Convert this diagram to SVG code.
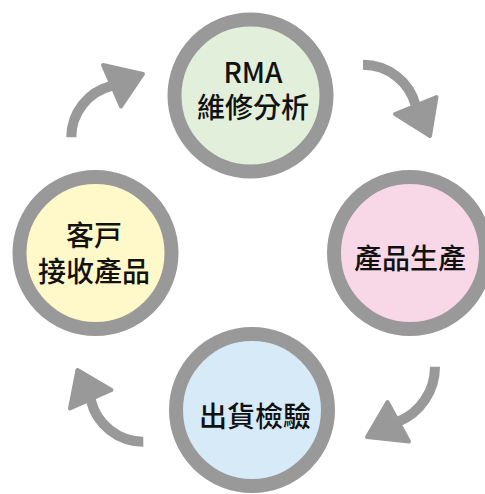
<svg xmlns="http://www.w3.org/2000/svg" width="485" height="494" viewBox="0 0 485 494">
<defs>
<style>
.ring{stroke:#999999;stroke-width:14}
.arc{fill:none;stroke:#999999;stroke-width:10;stroke-linecap:butt}
.head{fill:#999999;stroke:#999999;stroke-width:4;stroke-linejoin:round}
.lbl{font-family:"Noto Sans CJK TC","Noto Sans CJK SC",sans-serif;font-size:28px;font-weight:500;fill:#111111;text-anchor:middle;dominant-baseline:central}
</style>
</defs>
<rect width="485" height="494" fill="#ffffff"/>
<g id="connectors">
<g id="arrow-top-right">
<path class="arc" d="M363,64.7 A54.5,54.5 0 0 1 415.8,105.8"/>
<polygon class="head" points="395,114 436.5,97 430,136"/>
</g>
<g id="arrow-bottom-right">
<path class="arc" d="M435,366.7 A59.6,59.6 0 0 1 398.3,421.7"/>
<polygon class="head" points="387.5,402 409,441.5 367,437"/>
</g>
<g id="arrow-bottom-left">
<path class="arc" d="M143.3,441.7 A53.9,53.9 0 0 1 90.8,400"/>
<polygon class="head" points="77.5,370 111.5,390 70,408.5"/>
</g>
<g id="arrow-top-left">
<path class="arc" d="M71.3,137.3 A53,53 0 0 1 111.7,85.8"/>
<polygon class="head" points="103,65 143,74 121,106.5"/>
</g>
</g>
<g id="node-rma">
<circle class="ring" cx="250.5" cy="95.5" r="76" fill="#e2efda"/>
<text class="lbl" x="253" y="71">RMA</text>
<text class="lbl" x="253" y="105.5">維修分析</text>
</g>
<g id="node-production">
<circle class="ring" cx="410" cy="253" r="76" fill="#f8d7e7"/>
<text class="lbl" x="410" y="257">產品生產</text>
</g>
<g id="node-inspection">
<circle class="ring" cx="252" cy="410" r="76" fill="#d6eaf8"/>
<text class="lbl" x="255" y="415">出貨檢驗</text>
</g>
<g id="node-customer">
<circle class="ring" cx="95.5" cy="253" r="76" fill="#fff8c8"/>
<text class="lbl" x="94" y="233.5">客戸</text>
<text class="lbl" x="94" y="270">接收產品</text>
</g>
</svg>
